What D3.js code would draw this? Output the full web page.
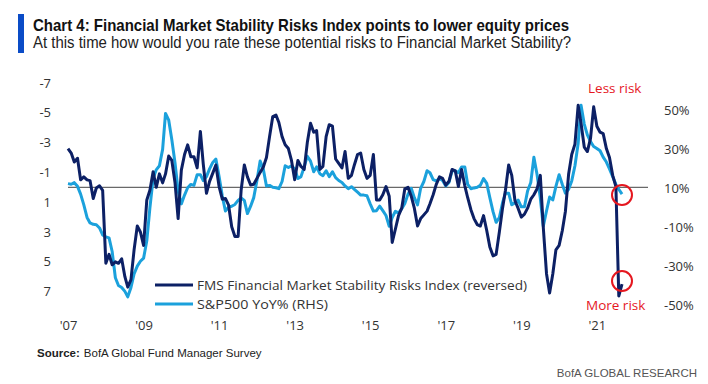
<!DOCTYPE html>
<html>
<head>
<meta charset="utf-8">
<script src="https://cdn.jsdelivr.net/npm/d3@7/dist/d3.min.js"></script>
<style>
  body { margin: 0; background: #fff; }
  text { font-family: "Open Sans", "Liberation Sans", sans-serif; }
</style>
</head>
<body>
<div id="vis-container"></div>
<script>
// FMS Financial Market Stability Risks Index, monthly from Aug 2007 (axis is reversed)
var fmsRisk = [
    -2.6, -2.3, -1.7, -1.95, -0.5, -0.7, -0.5, -0.45, 0.75, 0.05,
    -0.1, 0.2, 5.1, 4.5, 5.2, 5.0, 5.1, 4.8, 6.0, 6.7,
    6.2, 4.2, 2.6, 3.0, 3.9, 0.85, 0.2, -1.05, 0.0, -0.9,
    -0.3, -0.9, -2.1, -1.8, -0.3, 2.1, -1.15, -2.2, -2.85, -2.05,
    -2.05, -1.3, -3.75, -1.55, 0.4, -0.4, -0.95, -1.5, -0.05, 0.8,
    0.75, 1.2, 2.65, 3.3, 3.3, 0.2, -1.5, -0.7, -0.15, -0.2,
    -0.6, -1.0, -1.35, -2.0, -3.4, -4.75, -4.85, -4.35, -3.4, -2.85,
    -2.6, -1.8, -0.5, -1.8, -1.4, -1.2, -3.0, -4.3, -3.7, -3.8,
    -1.2, -1.4, -3.4, -4.2, -4.1, -1.9, -1.6, -1.3, -2.4, -0.6,
    -0.8, -1.5, -2.2, -2.3, -1.2, -0.6, -0.8, -2.2, 0.85, 0.85,
    0.5, -0.05, 0.6, 3.7, 2.8, 1.9, 1.4, 0.1, 0.0, 0.6,
    1.4, 2.6, 2.1, 1.85, 1.6, 1.1, 0.5, -0.2, -0.7, -0.6,
    -0.15, -0.4, -1.2, -1.1, -0.05, -1.2, -0.1, 0.7, 1.5, 2.1,
    2.5, 2.6, 1.9, 2.9, 4.0, 4.6, 4.5, 3.0, 1.4, 0.2,
    -1.5, -0.8, 0.9, 1.4, 2.0, 1.8, 1.4, 0.8, 0.5, 0.1,
    -0.8, 2.7, 5.8, 7.1, 5.8, 4.2, 3.9, 2.9, 1.6, -0.9,
    -2.2, -2.9, -5.5, -4.3, -2.7, -2.4, -3.3, -5.4, -4.1, -3.7,
    -3.6, -2.6, -2.0, -0.8, -0.05, 7.3, 6.5
];

// S&P500 YoY %, same months (right axis)
var spxYoY = [
    12.4, 12.1, 12.9, 11.0, 7.0, 1.5, -5.0, -7.8, -8.5, -8.7,
    -10.4, -14, -15, -15.5, -22.5, -36, -40, -41, -43, -45.8,
    -41, -34, -30, -27.5, -25.9, -17, 0, 15, 19.5, 21.6,
    30, 48.5, 45, 35, 23, 8.6, 2, 6.5, 10.3, 12,
    11.5, 17, 17, 14, 16, 20, 23.3, 25, 16, 6,
    -1.7, 0.3, 0.8, 1.7, 3.8, 5.0, 3.8, -3.0, 0.8, 5.2,
    14, 24, 20, 11.2, 11.5, 10.5, 10.3, 9.8, 13.5, 21.6,
    20.7, 21.5, 20, 15, 16, 21, 26.5, 24, 18.5, 21,
    17.5, 16.5, 19, 16, 18.5, 15.5, 14, 13, 11.2, 9.8,
    10.8, 9.5, 8.0, 6.5, 6.5, 6.2, 2.0, -1.7, -1.5, 0.8,
    -1.5, -4, -9.5, -5, -1.8, -2.6, -0.5, 2.2, 7.0, 10.0,
    5.2, 1.5, 10, 13.5, 19, 18, 14.5, 13.8, 15, 14,
    11.2, 13, 19, 19, 18, 21, 21, 12, 9.8, 10.2,
    10.5, 11.5, 15, 12.5, 5.2, -2, -7.5, -5, 2.6, 7.5,
    7.5, 1.5, 2.5, 4, 0.5, 0.5, 8.6, 13, 26, 17,
    5, -9.5, -1.7, 5.5, 4, 11, 17, 12, 7.5, 9.5,
    13.8, 21.6, 33, 52.7, 43, 37.5, 34, 31.5, 30.5, 29.3,
    26, 23.5, 20, 16, 12, 9.5, 7
];

var firstMonth = new Date(2007, 7, 1);
var tickYears = [2007, 2009, 2011, 2013, 2015, 2017, 2019, 2021];
var tickLabels = ["'07", "'09", "'11", "'13", "'15", "'17", "'19", "'21"];
var leftTicks = [-7, -5, -3, -1, 1, 3, 5, 7];
var rightTicks = [50, 30, 10, -10, -30, -50];
var seriesNames = ["FMS Financial Market Stability Risks Index (reversed)", "S&P500 YoY% (RHS)"];

var makeVis = function () {
    var width = 708, height = 384;
    var navy = "#0c2065", sky = "#1ba1dc", red = "#e5171f";

    var months = fmsRisk.map(function (d, i) { return d3.timeMonth.offset(firstMonth, i); });

    var svg = d3.select("#vis-container")
        .append("svg")
        .attr("width", width)
        .attr("height", height);

    // Scales
    var xScale = d3.scaleTime()
        .domain([months[0], months[months.length - 1]])
        .range([68, 622]);

    var yLeft = d3.scaleLinear()
        .domain([-7, 7])
        .range([83, 291.6]);

    var yRight = d3.scaleLinear()
        .domain([-50, 50])
        .range([305, 110.5]);

    // Title block
    svg.append("rect")
        .attr("x", 18).attr("y", 14)
        .attr("width", 6).attr("height", 39)
        .attr("fill", "#0a4cc7");

    svg.append("text")
        .attr("x", 33).attr("y", 31)
        .attr("textLength", 536)
        .attr("lengthAdjust", "spacingAndGlyphs")
        .style("font-family", "'Liberation Sans Narrow', 'Liberation Sans', sans-serif")
        .style("font-weight", "bold")
        .style("font-size", "17px")
        .attr("fill", "#111")
        .text("Chart 4: Financial Market Stability Risks Index points to lower equity  prices");

    svg.append("text")
        .attr("x", 33).attr("y", 48)
        .attr("textLength", 538)
        .attr("lengthAdjust", "spacingAndGlyphs")
        .style("font-family", "'Liberation Sans Narrow', 'Liberation Sans', sans-serif")
        .style("font-size", "16px")
        .attr("fill", "#222")
        .text("At this time how would you rate these potential risks to Financial Market Stability?");

    // Axes
    var leftAxis = d3.axisLeft(yLeft)
        .tickValues(leftTicks)
        .tickSize(0).tickPadding(3)
        .tickFormat(function (d) { return String(d); });

    var rightAxis = d3.axisRight(yRight)
        .tickValues(rightTicks)
        .tickSize(0).tickPadding(3)
        .tickFormat(function (d) { return d + "%"; });

    var tickDates = tickYears.map(function (y) { return new Date(y, 7, 1); });
    var xAxis = d3.axisBottom(xScale)
        .tickValues(tickDates)
        .tickSize(0).tickPadding(0)
        .tickFormat(function (d, i) { return tickLabels[i]; });

    var gl = svg.append("g").attr("transform", "translate(54,0)").call(leftAxis);
    var gr = svg.append("g").attr("transform", "translate(661,0)").call(rightAxis);
    var gx = svg.append("g").attr("transform", "translate(0,321)").call(xAxis);

    [gl, gr, gx].forEach(function (g) {
        g.select(".domain").remove();
        g.selectAll("text")
            .style("font-family", "'Open Sans', sans-serif")
            .style("font-size", "13px")
            .attr("fill", "#333");
    });

    // Zero line (left 0 / right 10%)
    svg.append("line")
        .attr("x1", 68).attr("x2", 648)
        .attr("y1", yLeft(0)).attr("y2", yLeft(0))
        .attr("stroke", "#444").attr("stroke-width", 1);

    // Lines
    var spxLine = d3.line()
        .x(function (d, i) { return xScale(months[i]); })
        .y(function (d) { return yRight(d); });

    var fmsLine = d3.line()
        .x(function (d, i) { return xScale(months[i]); })
        .y(function (d) { return yLeft(d); });

    svg.append("path")
        .datum(spxYoY)
        .attr("fill", "none")
        .attr("stroke", sky)
        .attr("stroke-width", 3)
        .attr("stroke-linejoin", "round")
        .attr("d", spxLine);

    svg.append("path")
        .datum(fmsRisk)
        .attr("fill", "none")
        .attr("stroke", navy)
        .attr("stroke-width", 3)
        .attr("stroke-linejoin", "round")
        .attr("d", fmsLine);

    // Legend
    var legend = svg.append("g");
    [navy, sky].forEach(function (c, i) {
        var ly = 285 + i * 19;
        legend.append("line")
            .attr("x1", 155).attr("x2", 193)
            .attr("y1", ly).attr("y2", ly)
            .attr("stroke", c).attr("stroke-width", 3);
        legend.append("text")
            .attr("x", 197).attr("y", ly + 4.5)
            .attr("textLength", i === 0 ? 330 : 131)
            .attr("lengthAdjust", "spacingAndGlyphs")
            .style("font-size", "13px")
            .attr("fill", "#333")
            .text(seriesNames[i]);
    });

    // Annotations
    svg.append("text")
        .attr("x", 588).attr("y", 93)
        .style("font-size", "13.5px")
        .attr("fill", red)
        .text("Less risk");

    svg.append("text")
        .attr("x", 586).attr("y", 310)
        .style("font-size", "13.5px")
        .attr("fill", red)
        .text("More risk");

    [[fmsRisk.length - 1, 195], [fmsRisk.length - 1, 281]].forEach(function (c) {
        svg.append("circle")
            .attr("cx", xScale(months[c[0]]))
            .attr("cy", c[1])
            .attr("r", 10)
            .attr("fill", "none")
            .attr("stroke", red)
            .attr("stroke-width", 2);
    });

    // Footer
    var src = svg.append("text")
        .attr("x", 37).attr("y", 357)
        .style("font-family", "'Liberation Sans Narrow', 'Liberation Sans', sans-serif")
        .style("font-size", "11.5px")
        .attr("fill", "#222");
    src.append("tspan").style("font-weight", "bold").text("Source:");
    src.append("tspan").attr("dx", 4).text("BofA Global Fund Manager Survey");

    svg.append("text")
        .attr("x", 697).attr("y", 377)
        .attr("text-anchor", "end")
        .style("font-family", "'Liberation Sans Narrow', 'Liberation Sans', sans-serif")
        .style("font-size", "11.5px")
        .attr("fill", "#555")
        .text("BofA GLOBAL RESEARCH");
};

makeVis();
</script>
</body>
</html>
